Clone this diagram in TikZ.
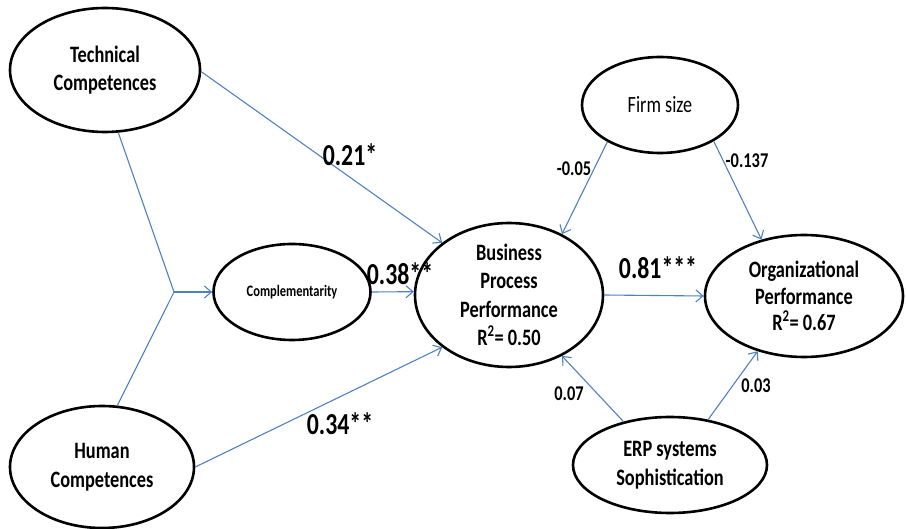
\documentclass[tikz,border=0pt]{standalone}
\usepackage{fontspec}
\setmainfont{Carlito}[FakeStretch=0.78]
\usetikzlibrary{shapes.geometric,arrows.meta}
\definecolor{lineblue}{HTML}{4F81BD}
\begin{document}
\begin{tikzpicture}[x=1pt,y=-1pt,
  ell/.style={draw=black, line width=2.6pt, ellipse, inner sep=0pt},
  conn/.style={draw=lineblue, line width=1.1pt, -{Straight Barb[length=7pt,width=12pt]}},
  plain/.style={draw=lineblue, line width=1.1pt},
  txt/.style={align=center, font=\fontsize{23.5}{28.5}\selectfont\bfseries, inner sep=0pt},
  txtr/.style={align=center, font=\fontsize{23.3}{28}\selectfont, inner sep=0pt},
  txts/.style={align=center, font=\fontsize{16}{19}\selectfont\bfseries, inner sep=0pt},
  big/.style={font=\fontsize{30.5}{34}\selectfont\bfseries, inner sep=0pt},
  small/.style={font=\fontsize{21}{24}\selectfont\bfseries, inner sep=0pt}]
\useasboundingbox (0,0) rectangle (906,529);
% ellipses
\node[ell, minimum width=190pt, minimum height=124pt] (tc) at (105,70) {};
\node[ell, minimum width=184pt, minimum height=122pt] (hc) at (102,467) {};
\node[ell, minimum width=157pt, minimum height=96pt] (comp) at (292,292) {};
\node[ell, minimum width=188pt, minimum height=144pt] (bpp) at (509,295) {};
\node[ell, minimum width=198pt, minimum height=122pt] (op) at (804,296) {};
\node[ell, minimum width=156pt, minimum height=96pt] (fs) at (660,105) {};
\node[ell, minimum width=194pt, minimum height=96pt] (erp) at (670,465) {};
% texts
\node[txt] (tct) at (tc) {Technical\\Competences};
\node[txt] (hct) at (hc) {Human\\Competences};
\node[txts] (compt) at (comp) {Complementarity};
\node[txt] (bppt) at (bpp) {Business\\Process\\Performance\\R\textsuperscript{2}= 0.50};
\node[txt, font=\fontsize{23.5}{26.5}\selectfont\bfseries] (opt) at (op) {Organizational\\Performance\\R\textsuperscript{2}= 0.67};
\node[txtr] (fst) at (fs) {Firm size};
\node[txt] (erpt) at (erp) {ERP systems\\Sophistication};
% junction
\coordinate (j) at (174,292);
% connectors
\draw[plain] (tc.-78) -- (j);
\draw[plain] (hc.76) -- (j);
\draw[conn] (j) -- (comp.west);
\draw[conn] (tc.-1) -- (bpp.142);
\draw[conn] (comp.east) -- (bpp.178);
\draw[conn] (hc.east) -- (bpp.218);
\draw[conn] (bpp.east) -- (op.west);
\draw[conn] (fs.215) -- (bpp.49.5);
\draw[conn] (fs.-34) -- (op.127);
\draw[conn] (erp.137.5) -- (bpp.-49.5);
\draw[conn] (erp.50) -- (op.230.5);
% labels
\node[big] (l21) at (350,155) {0.21*};
\node[big] (l38) at (400,274) {0.38**};
\node[big] (l34) at (340,424) {0.34**};
\node[big] (l81) at (658,268) {0.81***};
\node[small] (l05) at (574,169) {-0.05};
\node[small] (l137) at (747,161) {-0.137};
\node[small] (l07) at (569,394) {0.07};
\node[small] (l03) at (756,386) {0.03};
\end{tikzpicture}
\end{document}
